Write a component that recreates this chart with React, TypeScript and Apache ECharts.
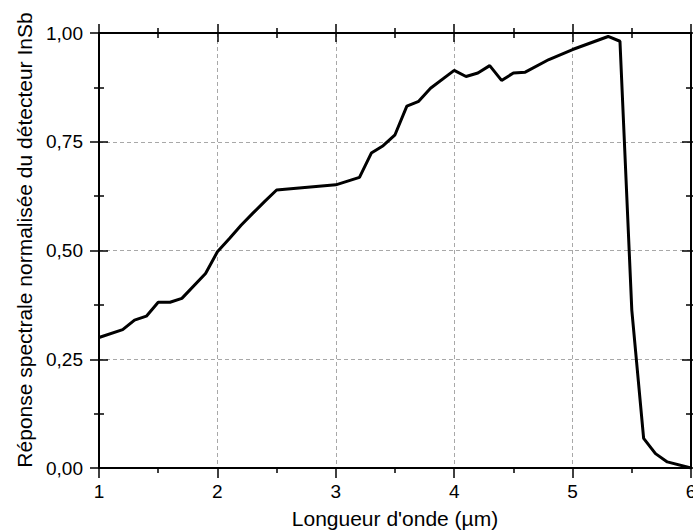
import React, { useEffect, useRef } from "react";
import * as echarts from "echarts";

const wavelength = [
  1.0, 1.2, 1.3, 1.4, 1.5, 1.6, 1.7, 1.9, 2.0, 2.1, 2.2, 2.3, 2.4, 2.5, 3.0, 3.2,
  3.3, 3.4, 3.5, 3.6, 3.7, 3.8, 4.0, 4.1, 4.2, 4.3, 4.4, 4.5, 4.6, 4.8, 5.0, 5.3,
  5.4, 5.5, 5.6, 5.7, 5.8, 6.0,
];
const response = [
  0.300, 0.318, 0.340, 0.349, 0.381, 0.381, 0.390, 0.447, 0.497, 0.527, 0.558, 0.586,
  0.613, 0.639, 0.651, 0.668, 0.724, 0.741, 0.766, 0.832, 0.843, 0.873, 0.914, 0.900,
  0.908, 0.925, 0.891, 0.908, 0.910, 0.939, 0.962, 0.992, 0.981, 0.363, 0.068, 0.033,
  0.014, 0.0,
];
const xTitle = "Longueur d'onde (µm)";
const yTitle = "Réponse spectrale normalisée du détecteur InSb";

const FONT = "Liberation Sans, Arial, Helvetica, sans-serif";

function tick(len: number, inside: boolean) {
  return { show: true, length: len, inside, lineStyle: { color: "#000", width: 1.5 } };
}
function minor(len: number) {
  return { show: true, splitNumber: 2, length: len, lineStyle: { color: "#000", width: 1.5 } };
}
function axis(kind: string, position: string, inside: boolean, len: number, extra: any = {}) {
  const isX = kind === "x";
  return {
    type: "value",
    position,
    min: isX ? 1 : 0,
    max: isX ? 6 : 1,
    interval: isX ? 1 : 0.25,
    axisLine: { show: true, onZero: false, lineStyle: { color: "#000", width: 2 } },
    axisTick: tick(len, inside),
    minorTick: minor(5),
    axisLabel: { show: false },
    splitLine: { show: false },
    ...extra,
  };
}

function Chart() {
  const ref = useRef<HTMLDivElement>(null);
  useEffect(() => {
    if (!ref.current) return;
    const chart = echarts.init(ref.current, undefined, { renderer: "svg" });
    const grid = { color: "#a8a8a8", width: 1, type: [4, 3] };
    const data = wavelength.map((x, i) => [x, response[i]]);
    chart.setOption({
      animation: false,
      title: { text: "", left: 60, top: 0 },
      grid: { left: 99, right: 2, top: 33, bottom: 63, outerBoundsMode: "none" },
      xAxis: [
        axis("x", "bottom", false, 10, {
          axisLabel: {
            show: true,
            margin: 14,
            fontSize: 19,
            fontFamily: FONT,
            color: "#000",
            formatter: (v: number) => String(v),
          },
          splitLine: { show: true, lineStyle: grid },
        }),
        axis("x", "top", false, 9),
        axis("x", "top", true, 9),
      ],
      yAxis: [
        axis("y", "left", false, 9, {
          axisLabel: {
            show: true,
            margin: 16,
            fontSize: 19,
            fontFamily: FONT,
            color: "#000",
            formatter: (v: number) => v.toFixed(2).replace(".", ","),
          },
          splitLine: { show: true, lineStyle: grid },
        }),
        axis("y", "left", true, 9),
        axis("y", "right", false, 9),
        axis("y", "right", true, 9),
      ],
      series: [
        {
          type: "line",
          xAxisIndex: 0,
          yAxisIndex: 0,
          symbol: "none",
          data,
          lineStyle: { color: "#000", width: 3 },
        },
      ],
      graphic: [
        {
          type: "text",
          x: 395,
          y: 518,
          style: {
            text: xTitle,
            fontSize: 21,
            fontFamily: FONT,
            fill: "#000",
            textAlign: "center",
            textVerticalAlign: "middle",
          },
        },
        {
          type: "text",
          x: 24,
          y: 240,
          rotation: Math.PI / 2,
          style: {
            text: yTitle,
            fontSize: 21,
            fontFamily: FONT,
            fill: "#000",
            textAlign: "center",
            textVerticalAlign: "middle",
          },
        },
      ],
    });
    return () => chart.dispose();
  }, []);
  return <div ref={ref} style={{ width: 693, height: 531, display: "inline-block" }} />;
}

export default function App() {
  return (
    <div style={{ position: "fixed", left: 0, top: 0, width: 693, height: 531, background: "#fff" }}>
      <Chart />
    </div>
  );
}
